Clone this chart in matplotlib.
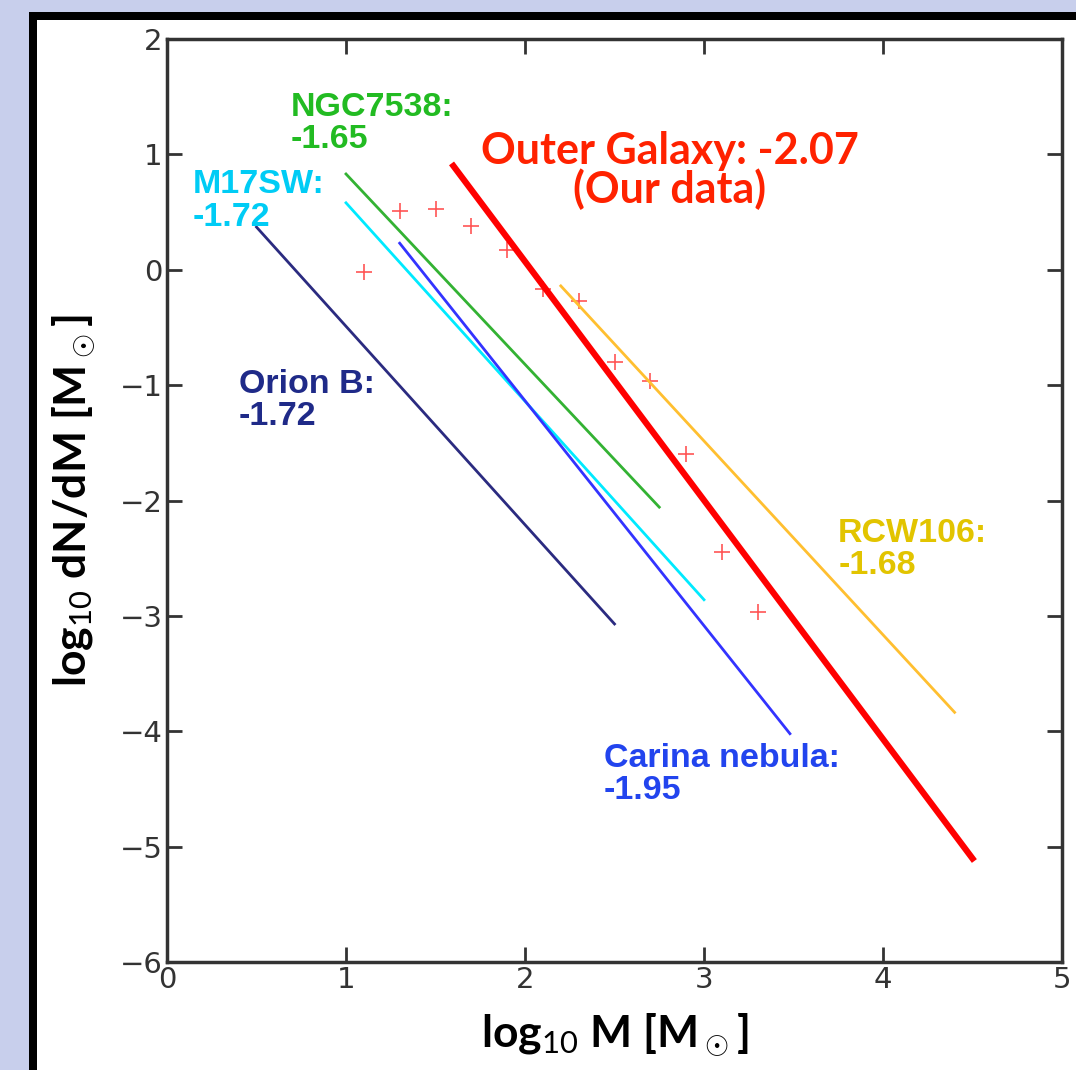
"""Core mass function slopes: outer galaxy vs. other star forming regions."""
import matplotlib
matplotlib.use("Agg")
import matplotlib.pyplot as plt
from matplotlib.patches import Rectangle

# measured mass function (log10 M, log10 dN/dM)
obs_logm = [1.1, 1.3, 1.5, 1.7, 1.9, 2.1, 2.3, 2.5, 2.7, 2.9, 3.1, 3.3]
obs_logn = [-0.02, 0.51, 0.53, 0.38, 0.17, -0.17, -0.27, -0.80, -0.96, -1.60, -2.45, -2.97]

# power-law fits: name -> (x start, x end, y at start, slope)
region_names = ["Orion B", "M17SW", "NGC7538", "Carina nebula", "RCW106", "Outer Galaxy"]
fit_x0 = [0.5, 1.0, 1.0, 1.3, 2.2, 1.6]
fit_x1 = [2.5, 3.0, 2.75, 3.48, 4.4, 4.5]
fit_y0 = [0.37, 0.58, 0.83, 0.23, -0.14, 0.90]
fit_slope = [-1.72, -1.72, -1.65, -1.95, -1.68, -2.07]
line_colors = ["#2b2b80", "#00eaff", "#33b233", "#3333ff", "#ffbf30", "#ff0000"]
line_widths = [2.0, 2.0, 2.0, 2.0, 2.0, 4.5]

# annotation labels (left/top anchored)
label_text = ["Orion B:\n-1.72", "M17SW:\n-1.72", "NGC7538:\n-1.65",
              "Carina nebula:\n-1.95", "RCW106:\n-1.68"]
label_xy = [(0.40, -0.86), (0.145, 0.87), (0.69, 1.54), (2.44, -4.10), (3.75, -2.15)]
label_colors = ["#1f2a88", "#00ccf5", "#22bb22", "#2244ee", "#e2c400"]

plt.rcParams["mathtext.fontset"] = "custom"
plt.rcParams["mathtext.rm"] = "Lato"
plt.rcParams["mathtext.bf"] = "Lato:bold"
plt.rcParams["mathtext.default"] = "rm"

W, H = 1076, 1070
fig = plt.figure(figsize=(W / 100, H / 100), dpi=100)
fig.patch.set_facecolor("#c8cfec")
fig.patches.append(Rectangle((29 / W, -0.1), 1.2, 1 - 12 / H + 0.1,
                             transform=fig.transFigure, fc="black", ec="none", zorder=-2))
fig.patches.append(Rectangle((37 / W, -0.1), 1.2, 1 - 20 / H + 0.1,
                             transform=fig.transFigure, fc="white", ec="none", zorder=-1))

ax = fig.add_axes([167 / W, 1 - 962 / H, (1062 - 167) / W, (962 - 39) / H])
ax.plot(obs_logm, obs_logn, "+", color="#ff5555", ms=12, mew=1.2, zorder=2)
for x0, x1, y0, s, c, lw in zip(fit_x0, fit_x1, fit_y0, fit_slope, line_colors, line_widths):
    ax.plot([x0, x1], [y0, y0 + s * (x1 - x0)], color=c, lw=lw, zorder=3)

for t, (x, y), c in zip(label_text, label_xy, label_colors):
    ax.text(x, y, t, color=c, fontsize=24.5, fontweight="bold", family="Liberation Sans",
            ha="left", va="top", linespacing=1.05)
ax.text(2.81, 1.20, "Outer Galaxy: -2.07\n(Our data)", color="#ff2200", fontsize=31,
        fontweight="bold", family="Lato", ha="center", va="top", linespacing=0.92)

ax.set_xlim(0, 5)
ax.set_ylim(-6, 2)
ax.set_xticks(range(0, 6))
ax.set_yticks(range(-6, 3))
ax.tick_params(direction="in", length=11, width=2, top=True, right=True,
               labelsize=21, labelcolor="#333333", color="#333333", pad=3)
for sp in ax.spines.values():
    sp.set_linewidth(2.5)
    sp.set_color("#333333")

ax.set_xlabel(r"log$_{10}$ M [M$_\odot$]", fontsize=32, fontweight="bold", family="Lato",
              labelpad=12)
ax.set_ylabel(r"log$_{10}$ dN/dM [M$_\odot$]", fontsize=32, fontweight="bold", family="Lato",
              labelpad=16)

fig.savefig("out.png", dpi=100, facecolor=fig.get_facecolor())
